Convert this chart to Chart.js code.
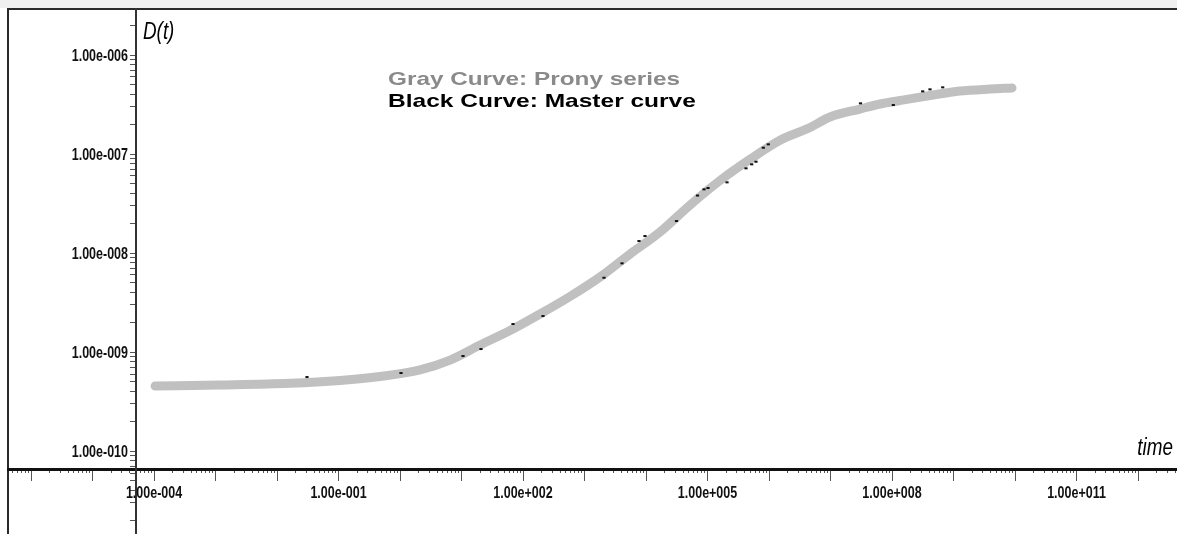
<!DOCTYPE html>
<html>
<head>
<meta charset="utf-8">
<title>Creep compliance D(t)</title>
<script src="https://cdn.jsdelivr.net/npm/chart.js@4.4.1/dist/chart.umd.min.js"></script>
<style>
  html, body { margin: 0; padding: 0; background: #fff; overflow: hidden; }
  canvas { display: block; }
</style>
</head>
<body>
<canvas id="chart" width="1177" height="534"></canvas>
<script>
// Prony series fit: time and compliance D(t)
const pronyTime = [1.04e-4, 1.183e-3, 1.627e-2, 0.1058, 0.4729, 2.115, 6.501, 20.0, 61.45,
  188.9, 581, 1786, 5494, 1.689e4, 5.193e4, 1.597e5, 4.911e5, 1.510e6, 4.642e6, 9.815e6,
  3.018e7, 6.380e7, 1.350e8, 4.148e8, 1.275e9, 3.922e9, 8.94e9];
const pronyD = [4.535e-10, 4.642e-10, 4.828e-10, 5.154e-10, 5.655e-10, 6.600e-10, 8.30e-10,
  1.177e-9, 1.649e-9, 2.420e-9, 3.636e-9, 5.722e-9, 9.770e-9, 1.630e-8, 3.053e-8, 5.399e-8,
  8.841e-8, 1.378e-7, 1.852e-7, 2.364e-7, 2.848e-7, 3.200e-7, 3.470e-7, 3.898e-7, 4.329e-7,
  4.535e-7, 4.642e-7];

// Master curve samples
const masterTime = [3.074e-2, 1.038, 10.58, 20.75, 68.8, 211.5, 2075, 4072, 7693, 9630,
  3.132e4, 6.877e4, 8.773e4, 1.019e5, 2.075e5, 4.227e5, 5.232e5, 6.145e5, 8.078e5, 9.741e5,
  3.074e7, 1.050e8, 3.156e8, 4.148e8, 6.674e8];
const masterD = [5.590e-10, 6.136e-10, 9.111e-10, 1.072e-9, 1.918e-9, 2.310e-9, 5.629e-9,
  7.870e-9, 1.322e-8, 1.485e-8, 2.105e-8, 3.809e-8, 4.399e-8, 4.535e-8, 5.178e-8, 7.171e-8,
  7.870e-8, 8.360e-8, 1.158e-7, 1.253e-7, 3.252e-7, 3.125e-7, 4.298e-7, 4.503e-7, 4.717e-7];

// Axis decades and tick labels
const xDecades = [-7, -6, -5, -4, -3, -2, -1, 0, 1, 2, 3, 4, 5, 6, 7, 8, 9, 10, 11, 12];
const xLabelDecades = [-4, -1, 2, 5, 8, 11];
const xTickLabels = ['1.00e-004', '1.00e-001', '1.00e+002', '1.00e+005', '1.00e+008', '1.00e+011'];
const yDecades = [-11, -10, -9, -8, -7, -6];
const yLabelDecades = [-10, -9, -8, -7, -6];
const yTickLabels = ['1.00e-010', '1.00e-009', '1.00e-008', '1.00e-007', '1.00e-006'];

// Visible window (log10 units) and where the two axes cross
const X_RANGE = [-6.374, 12.634];
const Y_RANGE = [-10.838, -5.535];
const Y_AXIS_AT_TIME = Math.pow(10, -4.293);
const X_AXIS_AT_D = Math.pow(10, -10.182);

// Narrow bold face: Liberation Sans squeezed horizontally
const LABEL_FONT = 'bold 16px "Liberation Sans", Arial, sans-serif';
const LABEL_SQUEEZE = 0.78;
const TITLE_FONT = 'italic 23px "Liberation Sans", Arial, sans-serif';
const TITLE_SQUEEZE = 0.82;
const KEY_FONT = 'bold 19px "Liberation Sans", Arial, sans-serif';

function decadeValues(decs) { return decs.map(d => Math.pow(10, d)); }
function minorValues(decs) {
  const out = [];
  decs.forEach(d => { for (let k = 2; k <= 9; k++) out.push(k * Math.pow(10, d)); });
  return out;
}
function setTicks(values) {
  return scale => {
    scale.ticks = values
      .filter(v => v >= scale.min * 0.999999 && v <= scale.max * 1.000001)
      .sort((a, b) => a - b)
      .map(v => ({ value: v }));
  };
}
// Axes sit inside the plot, so they need no outer room
function noOuterPadding(scale) {
  scale.paddingLeft = scale.paddingRight = scale.paddingTop = scale.paddingBottom = 0;
}

function squeezedText(ctx, text, x, y, align, squeeze, color) {
  ctx.save();
  if (color) ctx.fillStyle = color;
  ctx.translate(x, y);
  ctx.scale(squeeze, 1);
  ctx.textAlign = align;
  ctx.fillText(text, 0, 0);
  ctx.restore();
}

// Frame, top band, axis labels and curve key
const decorations = {
  id: 'decorations',
  beforeDraw(chart) {
    const { ctx, chartArea } = chart;
    ctx.save();
    ctx.fillStyle = '#ffffff';
    ctx.fillRect(0, 0, chart.width, chart.height);
    ctx.fillStyle = '#f0f0f0';
    ctx.fillRect(0, 0, chart.width, chartArea.top - 1);
    ctx.fillStyle = '#2a2a2a';
    ctx.fillRect(chartArea.left - 1, chartArea.top - 1, chart.width - chartArea.left + 1, 2);
    ctx.fillRect(chartArea.left - 1, chartArea.top - 1, 2, chart.height - chartArea.top + 1);
    ctx.restore();
  },
  afterDraw(chart) {
    const { ctx, chartArea, scales } = chart;
    const axisX = scales.x.getPixelForValue(Y_AXIS_AT_TIME);
    const axisY = scales.y.getPixelForValue(X_AXIS_AT_D);
    ctx.save();
    ctx.textBaseline = 'alphabetic';

    // tick labels
    ctx.font = LABEL_FONT;
    xLabelDecades.forEach((d, i) => {
      const px = scales.x.getPixelForValue(Math.pow(10, d));
      squeezedText(ctx, xTickLabels[i], px, axisY + 29, 'center', LABEL_SQUEEZE, '#111');
    });
    yLabelDecades.forEach((d, i) => {
      const py = scales.y.getPixelForValue(Math.pow(10, d));
      squeezedText(ctx, yTickLabels[i], axisX - 8, py + 6, 'right', LABEL_SQUEEZE, '#111');
    });

    // axis names
    ctx.font = TITLE_FONT;
    squeezedText(ctx, 'D(t)', axisX + 7, chartArea.top + 30, 'left', TITLE_SQUEEZE, '#000');
    squeezedText(ctx, 'time', chartArea.right - 4, axisY - 14, 'right', TITLE_SQUEEZE, '#000');

    // curve key
    ctx.font = KEY_FONT;
    const keyX = 388;
    squeezedText(ctx, 'Gray Curve: Prony series', keyX, 85, 'left', 1.28, '#8a8a8a');
    squeezedText(ctx, 'Black Curve: Master curve', keyX, 107, 'left', 1.29, '#000000');
    ctx.restore();
  }
};

new Chart(document.getElementById('chart'), {
  type: 'line',
  data: {
    datasets: [
      {
        label: 'Prony series',
        data: pronyTime.map((t, i) => ({ x: t, y: pronyD[i] })),
        borderColor: '#c0c0c0',
        borderWidth: 9,
        borderCapStyle: 'round',
        borderJoinStyle: 'round',
        cubicInterpolationMode: 'monotone',
        pointRadius: 0,
        order: 1
      },
      {
        label: 'Master curve',
        data: masterTime.map((t, i) => ({ x: t, y: masterD[i] })),
        showLine: false,
        pointStyle: 'line',
        pointRadius: 1.6,
        pointBorderWidth: 2,
        pointBorderColor: '#111',
        pointBackgroundColor: '#111',
        order: 0
      }
    ]
  },
  options: {
    responsive: false,
    animation: false,
    devicePixelRatio: 1,
    layout: { autoPadding: false, padding: { left: 8, top: 9, right: 0, bottom: 0 } },
    plugins: { legend: { display: false }, tooltip: { enabled: false } },
    scales: {
      x: {
        type: 'logarithmic',
        min: Math.pow(10, X_RANGE[0]),
        max: Math.pow(10, X_RANGE[1]),
        position: { y: X_AXIS_AT_D },
        afterBuildTicks: setTicks(decadeValues(xDecades)),
        afterFit: noOuterPadding,
        grid: { drawOnChartArea: false, drawTicks: true, tickLength: 10, tickColor: '#555', tickWidth: 1 },
        border: { display: true, color: '#111', width: 3 },
        ticks: { display: false }
      },
      xMinor: {
        type: 'logarithmic',
        min: Math.pow(10, X_RANGE[0]),
        max: Math.pow(10, X_RANGE[1]),
        position: { y: X_AXIS_AT_D },
        afterBuildTicks: setTicks(minorValues(xDecades)),
        afterFit: noOuterPadding,
        grid: { drawOnChartArea: false, drawTicks: true, tickLength: 4, tickColor: '#555', tickWidth: 1 },
        border: { display: false },
        ticks: { display: false }
      },
      y: {
        type: 'logarithmic',
        min: Math.pow(10, Y_RANGE[0]),
        max: Math.pow(10, Y_RANGE[1]),
        position: { x: Y_AXIS_AT_TIME },
        afterBuildTicks: setTicks(decadeValues(yDecades).concat(minorValues(yDecades))),
        afterFit: noOuterPadding,
        grid: { drawOnChartArea: false, drawTicks: true, tickLength: 5, tickColor: '#555', tickWidth: 1 },
        border: { display: true, color: '#333', width: 2 },
        ticks: { display: false }
      }
    }
  },
  plugins: [decorations]
});
</script>
</body>
</html>
